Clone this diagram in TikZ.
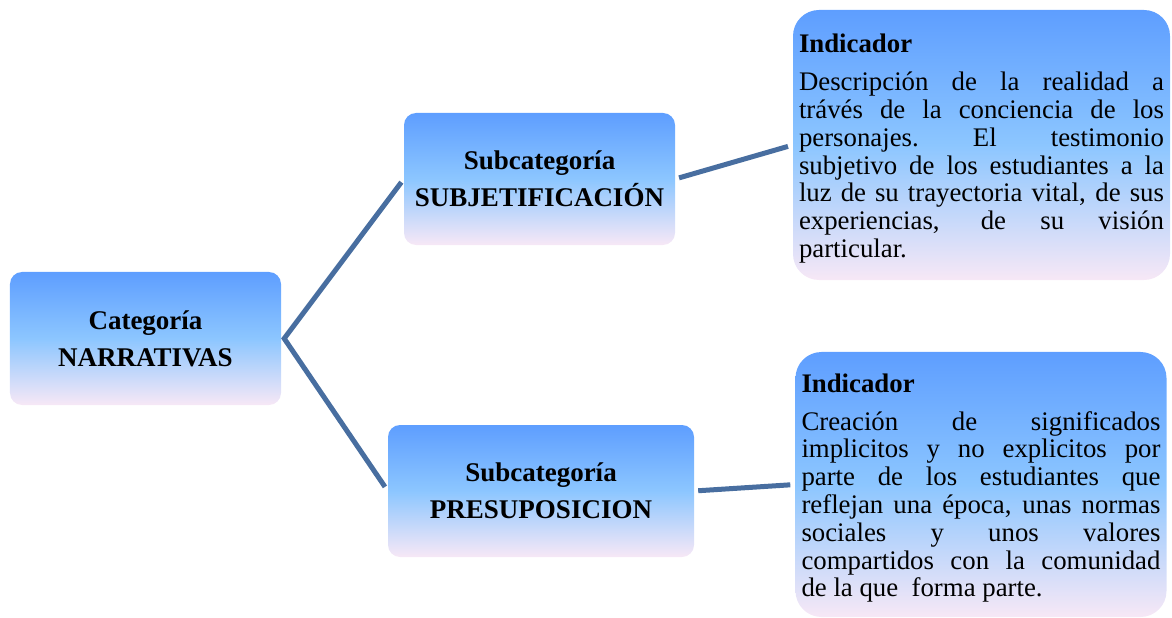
\documentclass[tikz,border=0pt]{standalone}
\usepackage{fontspec}
\setmainfont{Liberation Serif}
\usetikzlibrary{positioning}

\definecolor{boxtop}{RGB}{94,158,255}
\definecolor{boxmid}{RGB}{140,198,255}
\definecolor{boxbot}{RGB}{247,232,246}
\definecolor{linkblue}{RGB}{72,110,160}

% one justified line, one left line
\newcommand{\jline}[1]{{\spaceskip=.25em plus 1fil\xspaceskip=.25em plus 1fil\hbox to\hsize{#1}}}
\newcommand{\lline}[1]{\hbox to\hsize{#1\hfil}}

\begin{document}
\begin{tikzpicture}
	[x=1bp,y=-1bp,
		cat node/.style={rectangle,rounded corners=12bp,top color=boxtop,bottom color=boxbot,middle color=boxmid,
			align=center,font=\bfseries\fontsize{27bp}{37bp}\selectfont},
		ind node/.style={rectangle,rounded corners=26bp,top color=boxtop,bottom color=boxbot,middle color=boxmid,
			align=justify,inner xsep=6bp,font=\fontsize{26.8bp}{27.8bp}\selectfont},
		link/.style={draw=linkblue,line width=5bp,shorten <=4bp,shorten >=5bp}]

	\useasboundingbox (0,0) rectangle (1172,618);

	\node[cat node, minimum width=271bp, minimum height=133bp] (cat) at (145.5,338.5) {Categoría\\NARRATIVAS};
	\node[cat node, minimum width=271bp, minimum height=132bp] (subj) at (539.5,179) {Subcategoría\\SUBJETIFICACIÓN};
	\node[cat node, minimum width=306bp, minimum height=132bp] (presup) at (541,491) {Subcategoría\\PRESUPOSICION};

	\node[ind node, text width=365bp, minimum height=270bp] (indsubj) at (981.5,145) {%
		\rule{0pt}{26bp}\textbf{Indicador}\par\vspace{10bp}
		\jline{Descripción de la realidad a}
		\jline{trávés de la conciencia de los}
		\jline{personajes. El testimonio}
		\jline{subjetivo de los estudiantes a la}
		\jline{luz de su trayectoria vital, de sus}
		\jline{experiencias, de su visión}
		\lline{particular.}};
	\node[ind node, text width=359bp, minimum height=265bp] (indpres) at (981,484.5) {%
		\rule{0pt}{26bp}\textbf{Indicador}\par\vspace{10bp}
		\jline{Creación de significados}
		\jline{implicitos y no explicitos por}
		\jline{parte de los estudiantes que}
		\jline{reflejan una época, unas normas}
		\jline{sociales y unos valores}
		\jline{compartidos con la comunidad}
		\lline{de la que~ forma parte.}};

	\coordinate (fork) at ([xshift=3bp]cat.east);
	\draw[link] (subj.west) -- (fork) -- (presup.west);
	\path[link]
	(subj.east) edge (indsubj.west)
	(presup.east) edge (indpres.west)
	;

\end{tikzpicture}
\end{document}
